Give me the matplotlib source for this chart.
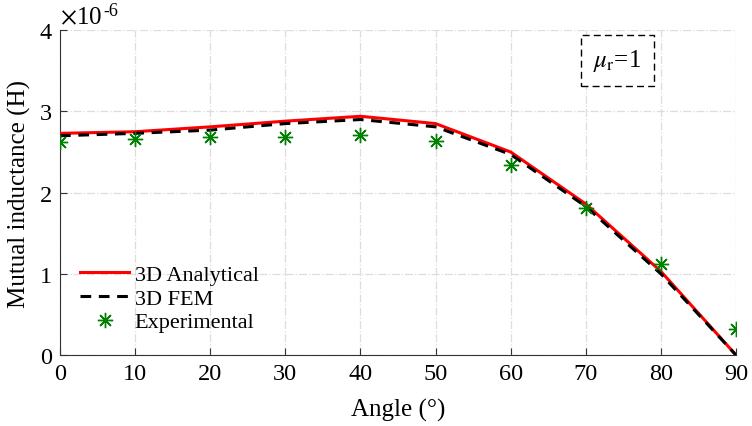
import numpy as np
import matplotlib.pyplot as plt

plt.rcParams['font.family'] = ['Liberation Serif', 'DejaVu Serif']
plt.rcParams['mathtext.fontset'] = 'stix'

# Data (mutual inductance in units of 1e-6 H)
angle = [0, 10, 20, 30, 40, 50, 60, 70, 80, 90]
analytical = [2.73, 2.75, 2.81, 2.88, 2.94, 2.85, 2.50, 1.86, 1.03, 0.0]
fem = [2.70, 2.73, 2.77, 2.85, 2.90, 2.81, 2.47, 1.83, 1.00, 0.0]
experimental = [2.62, 2.66, 2.68, 2.69, 2.71, 2.63, 2.34, 1.81, 1.12, 0.32]

fig = plt.figure(figsize=(7.52, 4.27), dpi=100)
ax = fig.add_axes([0.0798, 0.166, 0.899, 0.761])

ax.plot(angle, analytical, color='red', lw=2.2, label='3D Analytical', zorder=3)
ax.plot(angle, fem, color='black', lw=2.2, ls=(0, (3.5, 2.5)), label='3D FEM', zorder=4)
ax.plot(angle, experimental, ls='none', marker=(8, 2, 0), ms=11, mew=1.0,
        color='green', label='Experimental', zorder=5)

ax.set_xlim(0, 90)
ax.set_ylim(0, 4)
ax.set_xticks(range(0, 91, 10))
ax.set_yticks([0, 1, 2, 3, 4])
ax.tick_params(direction='in', labelsize=17.5, color='#333333', length=5, pad=6)
ax.grid(True, ls='-.', color='#dddddd', lw=0.9)
ax.set_axisbelow(True)
for s in ['top', 'right']:
    ax.spines[s].set_visible(False)
for s in ['left', 'bottom']:
    ax.spines[s].set_color('#333333')

ax.set_xlabel('Angle (°)', fontsize=18, labelpad=10)
ax.set_ylabel('Mutual inductance (H)', fontsize=18, labelpad=6)

ax.text(0.0, 1.005, r'$\times$10', transform=ax.transAxes,
        fontsize=18, ha='left', va='bottom')
ax.text(0.064, 1.035, '-6', transform=ax.transAxes,
        fontsize=13, ha='left', va='bottom')

ax.text(0.824, 0.908, r'$\mu_{\mathrm{r}}$=1', transform=ax.transAxes,
        fontsize=18, ha='center', va='center',
        bbox=dict(boxstyle='square,pad=0.5', fc='white', ec='black',
                  ls=(0, (5, 3)), lw=1))

ax.legend(loc='upper left', bbox_to_anchor=(0.03, 0.28), frameon=False,
          fontsize=16, handlelength=2.2, handletextpad=0.25, labelspacing=0.15,
          borderpad=0, borderaxespad=0)

fig.savefig('out.png', dpi=100)
